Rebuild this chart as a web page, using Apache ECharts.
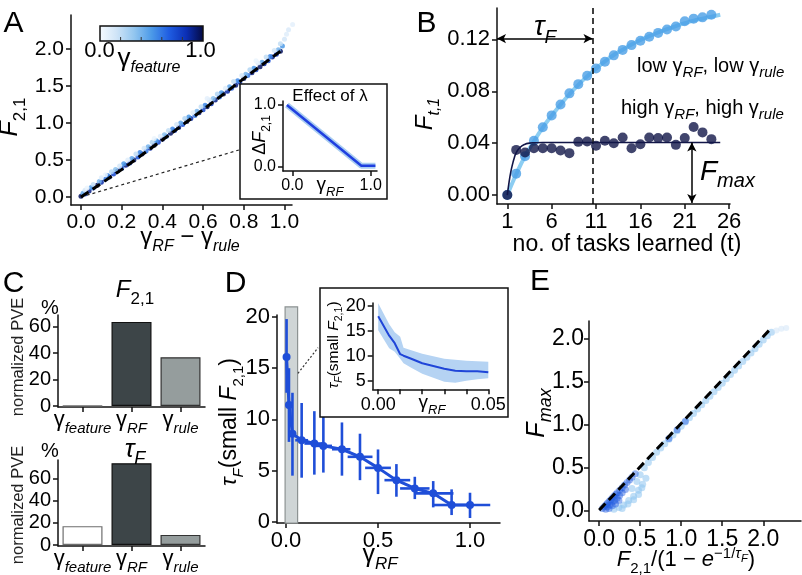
<!DOCTYPE html>
<html><head><meta charset="utf-8">
<script src="https://cdn.jsdelivr.net/npm/echarts@6/dist/echarts.min.js"></script>
<style>html,body{margin:0;padding:0;background:#fff}#c{width:802px;height:575px}</style>
</head><body><div id="c"></div>
<script>
// ---------- Panel A ----------
const aScatter = [ // [gammaRF - gammaRule, F21, gammaFeature]
[0.00,0.01,0.95],[0.02,0.04,0.8],[0.04,0.08,0.9],[0.06,0.12,0.7],[0.08,0.16,0.95],[0.10,0.20,0.85],[0.12,0.24,0.6],[0.14,0.27,0.9],[0.16,0.31,0.75],[0.18,0.35,0.95],[0.20,0.39,0.65],[0.22,0.43,0.9],[0.24,0.46,0.8],[0.26,0.50,0.95],[0.28,0.54,0.7],[0.30,0.58,0.9],[0.32,0.62,0.6],[0.34,0.66,0.85],[0.36,0.70,0.95],[0.38,0.74,0.75],[0.40,0.78,0.9],[0.42,0.82,0.65],[0.44,0.86,0.95],[0.46,0.90,0.8],[0.48,0.94,0.9],[0.50,0.98,0.7],[0.52,1.02,0.95],[0.54,1.06,0.85],[0.56,1.10,0.6],[0.58,1.14,0.9],[0.60,1.18,0.75],[0.62,1.22,0.95],[0.64,1.26,0.8],[0.66,1.31,0.9],[0.68,1.35,0.65],[0.70,1.39,0.95],[0.72,1.43,0.85],[0.74,1.47,0.7],[0.76,1.51,0.9],[0.78,1.55,0.8],[0.80,1.60,0.95],[0.82,1.64,0.6],[0.84,1.68,0.9],[0.86,1.72,0.75],[0.88,1.76,0.95],[0.90,1.80,0.85],[0.92,1.84,0.7],[0.94,1.89,0.9],[0.96,1.93,0.8],[0.98,1.97,0.95],
[0.01,0.05,0.45],[0.05,0.13,0.5],[0.09,0.21,0.4],[0.13,0.29,0.55],[0.17,0.37,0.35],[0.21,0.45,0.5],[0.25,0.52,0.45],[0.29,0.60,0.55],[0.33,0.68,0.4],[0.37,0.76,0.5],[0.41,0.84,0.35],[0.45,0.92,0.55],[0.49,1.00,0.45],[0.53,1.08,0.5],[0.57,1.16,0.4],[0.61,1.24,0.55],[0.65,1.33,0.35],[0.69,1.41,0.5],[0.73,1.49,0.45],[0.77,1.57,0.55],[0.81,1.66,0.4],[0.85,1.74,0.5],[0.89,1.82,0.45],[0.93,1.90,0.55],[0.97,1.99,0.4],[0.99,2.04,0.5],
[0.02,0.09,0.15],[0.06,0.17,0.2],[0.10,0.26,0.1],[0.15,0.34,0.25],[0.19,0.42,0.15],[0.23,0.50,0.1],[0.27,0.58,0.2],[0.31,0.66,0.15],[0.35,0.74,0.25],[0.39,0.82,0.1],[0.43,0.90,0.2],[0.47,0.98,0.15],[0.51,1.06,0.25],[0.55,1.14,0.1],[0.59,1.22,0.2],[0.63,1.31,0.15],[0.67,1.39,0.25],[0.71,1.47,0.1],[0.75,1.56,0.2],[0.79,1.64,0.15],[0.83,1.72,0.25],[0.87,1.81,0.1],[0.91,1.89,0.2],[0.95,1.98,0.15],[0.98,2.07,0.2],[1.00,2.13,0.15],[1.01,2.20,0.1],[1.02,2.26,0.12],[1.04,2.33,0.08],[0.03,0.12,0.05],[0.12,0.30,0.05],[0.36,0.79,0.05],[0.62,1.33,0.08],[0.86,1.84,0.05]
];
const aFitLine = [[0,0],[0.2,0.37],[0.4,0.77],[0.6,1.18],[0.8,1.6],[0.99,1.99]];
const aConnector = [[0,0],[0.776,0.635]];
const aXTicks = [0,0.2,0.4,0.6,0.8,1.0];
const aYTicks = [0,0.5,1.0,1.5,2.0];
const aInsetLine = [[-0.07,1.0],[0.88,0.02],[1.06,0.02]];
const aInsetXTicks = [0,1];
const aInsetYTicks = [0,1];
const colorbarTicks = [0.2,0.4,0.6,0.8];

// ---------- Panel B ----------
const bTasks = [1,2,3,4,5,6,7,8,9,10,11,12,13,14,15,16,17,18,19,20,21,22,23,24];
const bLow  = [0,0.0165,0.030,0.0418,0.0523,0.0614,0.0698,0.0784,0.0855,0.092,0.0975,0.1027,0.1077,0.1119,0.1156,0.119,0.122,0.125,0.1276,0.130,0.134,0.136,0.137,0.139];
const bHigh = [0,0.0348,0.0328,0.0361,0.0361,0.0361,0.0343,0.0323,0.041,0.0413,0.038,0.0418,0.040,0.0444,0.0361,0.0392,0.0444,0.0439,0.0444,0.0387,0.0439,0.0524,0.0483,0.0431];
const bLowFitT = [1,2,3,4,5,6,7,8,9,10,11,12,13,14,15,16,17,18,19,20,21,22,23,24,25];
const bLowFit  = [0,0.016,0.030,0.0415,0.052,0.0612,0.0697,0.0777,0.085,0.0915,0.0975,0.103,0.108,0.112,0.116,0.1195,0.1225,0.1253,0.128,0.1303,0.1325,0.1345,0.136,0.1375,0.139];
const bHighFitT = [1,1.2,1.4,1.6,1.8,2,2.4,3,3.5,4,5,25];
const bHighFit  = [0,0.010,0.018,0.024,0.029,0.0325,0.0365,0.0392,0.0400,0.0403,0.0405,0.0405];
const bXTicks = [1,6,11,16,21,26];
const bYTicks = [0,0.04,0.08,0.12];
const bTauF = 10.6, bTauArrowY = 0.1206, bFmax = 0.0405, bFmaxT = 21.8;

// ---------- Panel C ----------
const cCategories = ['feature','RF','rule'];
const cF21 = [0.3, 63.5, 36.8];
const cTauF = [17.0, 73.7, 9.1];
const cYTicks = [0,20,40,60];
const cColors = ['#ffffff','#3d4548','#959d9d'];
const cBorders = ['#6e6e6e','#111111','#333333'];

// ---------- Panel D ----------
const dGammaRF = [0.003,0.016,0.035,0.085,0.154,0.203,0.304,0.402,0.50,0.60,0.70,0.80,0.90,1.0];
const dTau     = [16.1,11.4,8.6,7.96,7.64,7.41,7.08,6.34,5.26,4.06,3.25,2.77,1.63,1.63];
const dTauLo   = [12.6,7.8,4.5,4.3,4.6,4.8,4.5,4.06,2.7,2.44,2.21,1.40,0.65,0.36];
const dTauHi   = [19.8,15.0,12.6,11.6,10.8,10.4,9.7,8.6,7.06,5.63,4.39,3.97,3.16,2.83];
const dXLo     = [0.003,0.016,0.02,0.05,0.10,0.15,0.25,0.335,0.43,0.535,0.62,0.70,0.80,0.90];
const dXHi     = [0.003,0.016,0.05,0.12,0.20,0.25,0.35,0.47,0.57,0.675,0.78,0.91,0.91,1.11];
const dShadeX = [-0.005,0.063], dShadeY = [-0.13,21.0];
const dConnector = [[0.065,14.5],[0.174,17.0]];
const dXTicks = [0,0.5,1.0], dYTicks = [0,5,10,15,20];
const dInsetX    = [0,0.005,0.0075,0.01,0.0115,0.015,0.02,0.03,0.035,0.04,0.045,0.05];
const dInsetMean = [17.9,14.0,12.5,10.3,10.0,9.4,8.5,7.4,7.0,6.9,6.9,6.7];
const dInsetHi   = [20.5,16.3,14.7,13.8,11.6,11.1,10.4,9.4,9.2,9.0,8.9,8.8];
const dInsetLo   = [15.1,11.5,10.8,9.4,8.5,7.6,6.4,4.8,4.6,5.0,5.3,5.5];
const dInsetXTicks = [0,0.01,0.02,0.03,0.04,0.05], dInsetXLabels = [0,0.05], dInsetYTicks = [5,10,15,20];

// ---------- Panel E ----------
const eCore = [[0.04,0.03],[0.06,0.05],[0.08,0.07],[0.10,0.09],[0.12,0.11],[0.14,0.13],[0.16,0.15],[0.18,0.17],[0.20,0.19],[0.22,0.21],[0.25,0.24],[0.28,0.27],[0.31,0.30],[0.34,0.33],[0.37,0.36],[0.40,0.39],[0.44,0.43],[0.10,0.05],[0.13,0.07],[0.16,0.10],[0.19,0.12],[0.22,0.15],[0.25,0.18],[0.28,0.21],[0.32,0.25],[0.12,0.03],[0.16,0.06],[0.20,0.08],[0.24,0.12],[0.08,0.02],[0.85,0.84],[0.95,0.94],[1.05,1.04]];
const eHalo = [[0.18,0.02],[0.24,0.04],[0.30,0.07],[0.36,0.12],[0.42,0.17],[0.48,0.24],[0.53,0.31],[0.57,0.38],[0.28,0.03],[0.35,0.08],[0.42,0.13],[0.48,0.19],[0.52,0.27],[0.40,0.26],[0.46,0.34],[0.50,0.42],[0.55,0.50],[0.60,0.56],[0.65,0.62],[0.70,0.68],[0.75,0.73],[0.80,0.78],[0.85,0.83],[0.90,0.88],[0.95,0.93],[1.00,0.98],[1.05,1.03],[1.10,1.08],[1.15,1.13],[1.20,1.18],[1.25,1.23],[1.30,1.28],[1.35,1.33],[1.40,1.38],[1.45,1.43],[1.50,1.48],[1.55,1.53],[1.60,1.58],[1.65,1.63],[1.70,1.68],[1.75,1.73],[1.80,1.78],[1.85,1.83],[1.90,1.88],[1.95,1.93],[2.00,1.98],[2.05,2.03],[2.10,2.07]];
const eFaint = [[2.16,2.09],[2.22,2.11],[2.28,2.12]];
const eDiag = [[0,0.01],[2.08,2.10]];
const eTicks = [0,0.5,1.0,1.5,2.0];

// ---------- helpers ----------
const FF = "'Liberation Sans', Arial, Helvetica, sans-serif";
const cmap = ['#f7fbff','#cfe4f7','#93c6ef','#4c9ae8','#1f5de2','#0b2fb5','#04093f'];
function R(S, s, P) {
  return {
    r:{fontSize:S,fontFamily:FF,verticalAlign:'bottom',padding:[0,0,P,0]},
    i:{fontSize:S,fontFamily:FF,fontStyle:'italic',verticalAlign:'bottom',padding:[0,0,P,0]},
    s:{fontSize:s,fontFamily:FF,fontStyle:'italic',verticalAlign:'bottom'},
    n:{fontSize:s,fontFamily:FF,verticalAlign:'bottom'},
    p:{fontSize:s,fontFamily:FF,verticalAlign:'bottom',padding:[0,0,P+S*0.45,0]},
    pi:{fontSize:s,fontFamily:FF,fontStyle:'italic',verticalAlign:'bottom',padding:[0,0,P+S*0.45,0]},
    ps:{fontSize:s*0.75,fontFamily:FF,fontStyle:'italic',verticalAlign:'bottom',padding:[0,0,P+S*0.3,0]}
  };
}
function T(x, y, text, o) {
  o = o || {};
  const al = o.align || 'center';
  return {type:'text', x:x, y:y, rotation:o.rot||0, z:50, silent:true,
    style:{text:text, x:0, y:0, fill:o.color||'#000', fontSize:o.fs||22, fontFamily:FF,
      fontStyle:o.it?'italic':'normal', rich:o.rich, align:al, verticalAlign:'middle',
      textAlign:al, textVerticalAlign:'middle'}};
}
function vAxis(gi, min, max, ticks, fmt, fs, extra, labels, margin) {
  return Object.assign({type:'value', gridIndex:gi, min:min, max:max, splitLine:{show:false},
    axisLine:{show:true, onZero:false, lineStyle:{color:'#111', width:1.5}},
    axisTick:{show:true, length:5, customValues:ticks, lineStyle:{color:'#111', width:1.5}},
    axisLabel:{customValues:labels || ticks, formatter:fmt, fontSize:fs, fontFamily:FF, color:'#000', margin:margin || 7}}, extra || {});
}
const f1 = v => v.toFixed(1), f2 = v => v.toFixed(2), f0 = v => v.toFixed(0);
const zip = (a, b) => a.map((v, i) => [v, b[i]]);
const PI2 = Math.PI / 2;

const chart = echarts.init(document.getElementById('c'), null, {renderer:'canvas'});

const dErr = dGammaRF.map((x, i) => [x, dTau[i], dTauLo[i], dTauHi[i], dXLo[i], dXHi[i]]);
const DBLUE = '#1f4ed8';

const graphics = [
  {type:'rect', z:5, shape:{x:240, y:84, width:147, height:115}, style:{fill:'#fff', stroke:'#111', lineWidth:1.5}},
  {type:'rect', z:5, shape:{x:320, y:288, width:188, height:129}, style:{fill:'#fff', stroke:'#111', lineWidth:1.5}},
  {type:'rect', z:20, shape:{x:100, y:26, width:103, height:15},
    style:{fill:new echarts.graphic.LinearGradient(0,0,1,0, cmap.map((c,i)=>({offset:i/(cmap.length-1), color:c}))), stroke:'#111', lineWidth:1.5}},
  ...colorbarTicks.map(v => ({type:'line', z:21, shape:{x1:100+103*v, y1:37, x2:100+103*v, y2:41}, style:{stroke:'#333', lineWidth:1}})),
  T(13.5, 24, 'A', {fs:30}), T(426.5, 24, 'B', {fs:30}), T(13.5, 284, 'C', {fs:30}), T(235.5, 284, 'D', {fs:30}), T(540, 282, 'E', {fs:30}),
  // A
  T(99.5, 51, '0.0', {fs:22}), T(200.5, 51, '1.0', {fs:22}),
  T(149, 61, '{g|γ}{s|feature}', {rich:{g:{fontSize:26,fontFamily:FF,verticalAlign:'bottom',padding:[0,0,4,0]}, s:{fontSize:16,fontFamily:FF,fontStyle:'italic',verticalAlign:'bottom'}}}),
  T(13, 117, '{i|F}{n|2,1}', {rot:PI2, rich:R(25,17,6)}),
  T(190, 240, '{r|γ}{s|RF}{r| − γ}{s|rule}', {rich:R(24,16,5)}),
  T(330, 96, 'Effect of λ', {fs:17}),
  T(262, 135, '{r|Δ}{i|F}{n|2,1}', {rot:PI2, rich:R(18,12,4)}),
  T(330, 187, '{r|γ}{s|RF}', {rich:R(19,13,4)}),
  // B
  T(428, 114, '{i|F}{s|t,1}', {rot:PI2, rich:R(24,16,5)}),
  T(545, 30, '{i|τ}{s|F}', {rich:R(28,19,6)}),
  T(637, 68, '{r|low γ}{s|RF}{r|, low γ}{s|rule}', {align:'left', rich:R(20,15,4)}),
  T(621, 110, '{r|high γ}{s|RF}{r|, high γ}{s|rule}', {align:'left', rich:R(20,15,4)}),
  T(700, 175, '{i|F}{s|max}', {align:'left', rich:R(28,20,5)}),
  T(627, 245, 'no. of tasks learned (t)', {fs:23}),
  // C
  T(50, 308, '%', {fs:20}), T(135, 293, '{i|F}{n|2,1}', {rich:R(24,17,5)}),
  T(18, 357, 'normalized PVE', {rot:PI2, fs:16.5, color:'#222'}),
  T(50, 451, '%', {fs:20}), T(135, 452, '{i|τ}{s|F}', {rich:R(26,18,5)}),
  T(18, 505, 'normalized PVE', {rot:PI2, fs:16.5, color:'#222'}),
  // D
  T(232, 422, '{i|τ}{s|F}{r|(small }{i|F}{n|2,1}{r|)}', {rot:PI2, rich:R(23,15,5)}),
  T(380, 558, '{r|γ}{s|RF}', {rich:R(25,17,5)}),
  T(335, 345, '{i|τ}{s|F}{r|(small }{i|F}{n|2,1}{r|)}', {rot:PI2, rich:R(15.5,10.5,3)}),
  T(432, 405, '{r|γ}{s|RF}', {rich:R(19,13,4)}),
  // E
  T(540, 413, '{i|F}{s|max}', {rot:PI2, rich:R(25,18,5)}),
  T(686, 561, '{i|F}{n|2,1}{r|/(1 − }{i|e}{p|−1/}{pi|τ}{ps|F}{r|)}', {rich:R(22,15,5)})
];

const catRich = {g:{fontSize:22,fontFamily:FF,verticalAlign:'bottom',padding:[0,0,5,0]}, s:{fontSize:15,fontFamily:FF,fontStyle:'italic',verticalAlign:'bottom'}};
function catAxis(gi) {
  return {type:'category', gridIndex:gi, data:cCategories,
    axisLine:{show:true, onZero:false, lineStyle:{color:'#111', width:1.5}},
    axisTick:{show:true, alignWithLabel:true, length:5, lineStyle:{color:'#111', width:1.5}},
    axisLabel:{formatter:v => '{g|γ}{s|' + v + '}', rich:catRich, margin:2, color:'#000', interval:0}};
}

const option = {
  animation:false,
  backgroundColor:'#fff',
  grid:[
    {left:71, top:15, width:221, height:190},
    {left:283, top:101, width:94, height:70},
    {left:497, top:8, width:233, height:196},
    {left:58, top:315, width:147, height:92},
    {left:58, top:460, width:147, height:88},
    {left:277, top:315, width:223, height:208},
    {left:372.7, top:303, width:115.6, height:86.3},
    {left:589, top:321, width:212, height:200}
  ],
  xAxis:[
    vAxis(0, -0.049, 1.037, aXTicks, f1, 21),
    vAxis(1, -0.12, 1.08, aInsetXTicks, f1, 16, {z:10}),
    vAxis(2, -0.161, 26.1, bXTicks, f0, 22),
    catAxis(3), catAxis(4),
    vAxis(5, -0.049, 1.163, dXTicks, f1, 22),
    vAxis(6, -0.0025, 0.05, dInsetXTicks, f2, 18, {z:10}, dInsetXLabels),
    vAxis(7, -0.124, 2.46, eTicks, f1, 23)
  ],
  yAxis:[
    vAxis(0, -0.108, 2.459, aYTicks, f1, 21),
    vAxis(1, -0.065, 1.065, aInsetYTicks, f1, 16, {z:10}),
    vAxis(2, -0.0069, 0.1442, bYTicks, f2, 22),
    vAxis(3, -0.75, 68.7, cYTicks, f0, 20),
    vAxis(4, -0.88, 76.6, cYTicks, f0, 20),
    vAxis(5, -0.127, 20.2, dYTicks, f0, 22),
    vAxis(6, 3.28, 20.54, dInsetYTicks, f0, 18, {z:10}),
    vAxis(7, -0.116, 2.2, eTicks, f1, 23, null, null, 5)
  ],
  visualMap:[{type:'continuous', show:false, min:0, max:1, dimension:2, seriesIndex:0, inRange:{color:cmap}}],
  series:[
    // A
    {type:'scatter', xAxisIndex:0, yAxisIndex:0, data:aScatter, symbolSize:5, itemStyle:{opacity:0.85}, clip:false, silent:true},
    {type:'line', xAxisIndex:0, yAxisIndex:0, data:aFitLine, symbol:'none', lineStyle:{color:'#000', width:3, type:[9,5]}, z:3, silent:true},
    {type:'line', xAxisIndex:0, yAxisIndex:0, data:aConnector, symbol:'none', lineStyle:{color:'#222', width:1.2, type:[3,3]}, z:1, clip:false, silent:true},
    {type:'line', xAxisIndex:1, yAxisIndex:1, data:aInsetLine, symbol:'none', lineStyle:{color:'#a9cdf1', width:6}, z:10, silent:true},
    {type:'line', xAxisIndex:1, yAxisIndex:1, data:aInsetLine, symbol:'none', lineStyle:{color:'#1f3fe0', width:2.5}, z:11, silent:true},
    // B
    {type:'line', xAxisIndex:2, yAxisIndex:2, data:zip(bLowFitT, bLowFit), symbol:'none', smooth:true, lineStyle:{color:'#8ccdf2', width:4}, z:2, silent:true},
    {type:'scatter', xAxisIndex:2, yAxisIndex:2, data:zip(bTasks, bLow), symbolSize:10, itemStyle:{color:'#4a9fe6'}, z:3, silent:true},
    {type:'line', xAxisIndex:2, yAxisIndex:2, data:zip(bHighFitT, bHighFit), symbol:'none', smooth:true, lineStyle:{color:'#121648', width:1.6}, z:4, silent:true},
    {type:'scatter', xAxisIndex:2, yAxisIndex:2, data:zip(bTasks, bHigh), symbolSize:10, itemStyle:{color:'#121648'}, z:5, silent:true},
    {type:'line', xAxisIndex:2, yAxisIndex:2, data:[], silent:true, z:6,
      markLine:{silent:true, animation:false, label:{show:false}, symbol:['none','none'], lineStyle:{color:'#000', width:1.5, type:[6,4]},
        data:[{xAxis:bTauF}]}},
    {type:'line', xAxisIndex:2, yAxisIndex:2, data:[], silent:true, z:6,
      markLine:{silent:true, animation:false, label:{show:false}, symbol:['arrow','arrow'], symbolSize:[7,9], lineStyle:{color:'#000', width:1.5, type:'solid'},
        data:[[{coord:[-0.161, bTauArrowY]},{coord:[bTauF, bTauArrowY]}],
              [{coord:[bFmaxT, -0.0062]},{coord:[bFmaxT, bFmax]}]]}},
    // C
    {type:'bar', xAxisIndex:3, yAxisIndex:3, barWidth:40, silent:true,
      data:cF21.map((v,i)=>({value:v, itemStyle:{color:cColors[i], borderColor:cBorders[i], borderWidth:1.2}}))},
    {type:'bar', xAxisIndex:4, yAxisIndex:4, barWidth:40, silent:true,
      data:cTauF.map((v,i)=>({value:v, itemStyle:{color:cColors[i], borderColor:cBorders[i], borderWidth:1.2}}))},
    // D
    {type:'custom', xAxisIndex:5, yAxisIndex:5, silent:true, z:1, clip:false,
      data:[[dShadeX[0], dShadeX[1], dShadeY[0], dShadeY[1]]], encode:{x:[0,1], y:[2,3]},
      renderItem:(p, api) => {
        const a = api.coord([api.value(0), api.value(3)]), b = api.coord([api.value(1), api.value(2)]);
        return {type:'rect', shape:{x:a[0], y:a[1], width:b[0]-a[0], height:b[1]-a[1]}, style:{fill:'#cfd5d6', stroke:'#8d9393', lineWidth:1.2}};
      }},
    {type:'line', xAxisIndex:5, yAxisIndex:5, data:dConnector, symbol:'none', lineStyle:{color:'#333', width:1.2, type:[2,2]}, z:1, clip:false, silent:true},
    {type:'custom', xAxisIndex:5, yAxisIndex:5, silent:true, z:3, data:dErr, encode:{x:0, y:1},
      renderItem:(p, api) => {
        const x = api.value(0), y = api.value(1);
        const v1 = api.coord([x, api.value(2)]), v2 = api.coord([x, api.value(3)]);
        const h1 = api.coord([api.value(4), y]), h2 = api.coord([api.value(5), y]);
        const st = {stroke:DBLUE, lineWidth:2.6};
        return {type:'group', children:[
          {type:'line', shape:{x1:v1[0], y1:v1[1], x2:v2[0], y2:v2[1]}, style:st},
          {type:'line', shape:{x1:h1[0], y1:h1[1], x2:h2[0], y2:h2[1]}, style:st}
        ]};
      }},
    {type:'line', xAxisIndex:5, yAxisIndex:5, data:zip(dGammaRF, dTau), symbol:'circle', symbolSize:8, showSymbol:true,
      itemStyle:{color:DBLUE}, lineStyle:{color:DBLUE, width:3}, z:4, silent:true},
    {type:'custom', xAxisIndex:6, yAxisIndex:6, silent:true, z:10, data:dInsetX.map((x,i)=>[x, dInsetLo[i], dInsetHi[i]]), encode:{x:0, y:[1,2]},
      renderItem:(p, api) => {
        if (p.dataIndex !== 0) return {type:'group', children:[]};
        const pts = [];
        for (let i = 0; i < dInsetX.length; i++) pts.push(api.coord([dInsetX[i], dInsetHi[i]]));
        for (let i = dInsetX.length - 1; i >= 0; i--) pts.push(api.coord([dInsetX[i], dInsetLo[i]]));
        return {type:'polygon', shape:{points:pts}, style:{fill:'#b5d3f3'}};
      }},
    {type:'line', xAxisIndex:6, yAxisIndex:6, data:zip(dInsetX, dInsetMean), symbol:'none', lineStyle:{color:'#1f45d8', width:2}, z:11, silent:true},
    // E
    {type:'scatter', xAxisIndex:7, yAxisIndex:7, data:eHalo, symbolSize:7, itemStyle:{color:'#8ec4f0', opacity:0.55}, z:2, silent:true},
    {type:'scatter', xAxisIndex:7, yAxisIndex:7, data:eFaint, symbolSize:6, itemStyle:{color:'#cfe4f7', opacity:0.5}, z:2, silent:true, clip:false},
    {type:'scatter', xAxisIndex:7, yAxisIndex:7, data:eCore, symbolSize:7, itemStyle:{color:'#1f5ae0', opacity:0.45}, z:3, silent:true},
    {type:'line', xAxisIndex:7, yAxisIndex:7, data:eDiag, symbol:'none', lineStyle:{color:'#000', width:3, type:[9,5]}, z:4, silent:true}
  ],
  graphic:{elements:graphics}
};
chart.setOption(option);
</script>
</body></html>
